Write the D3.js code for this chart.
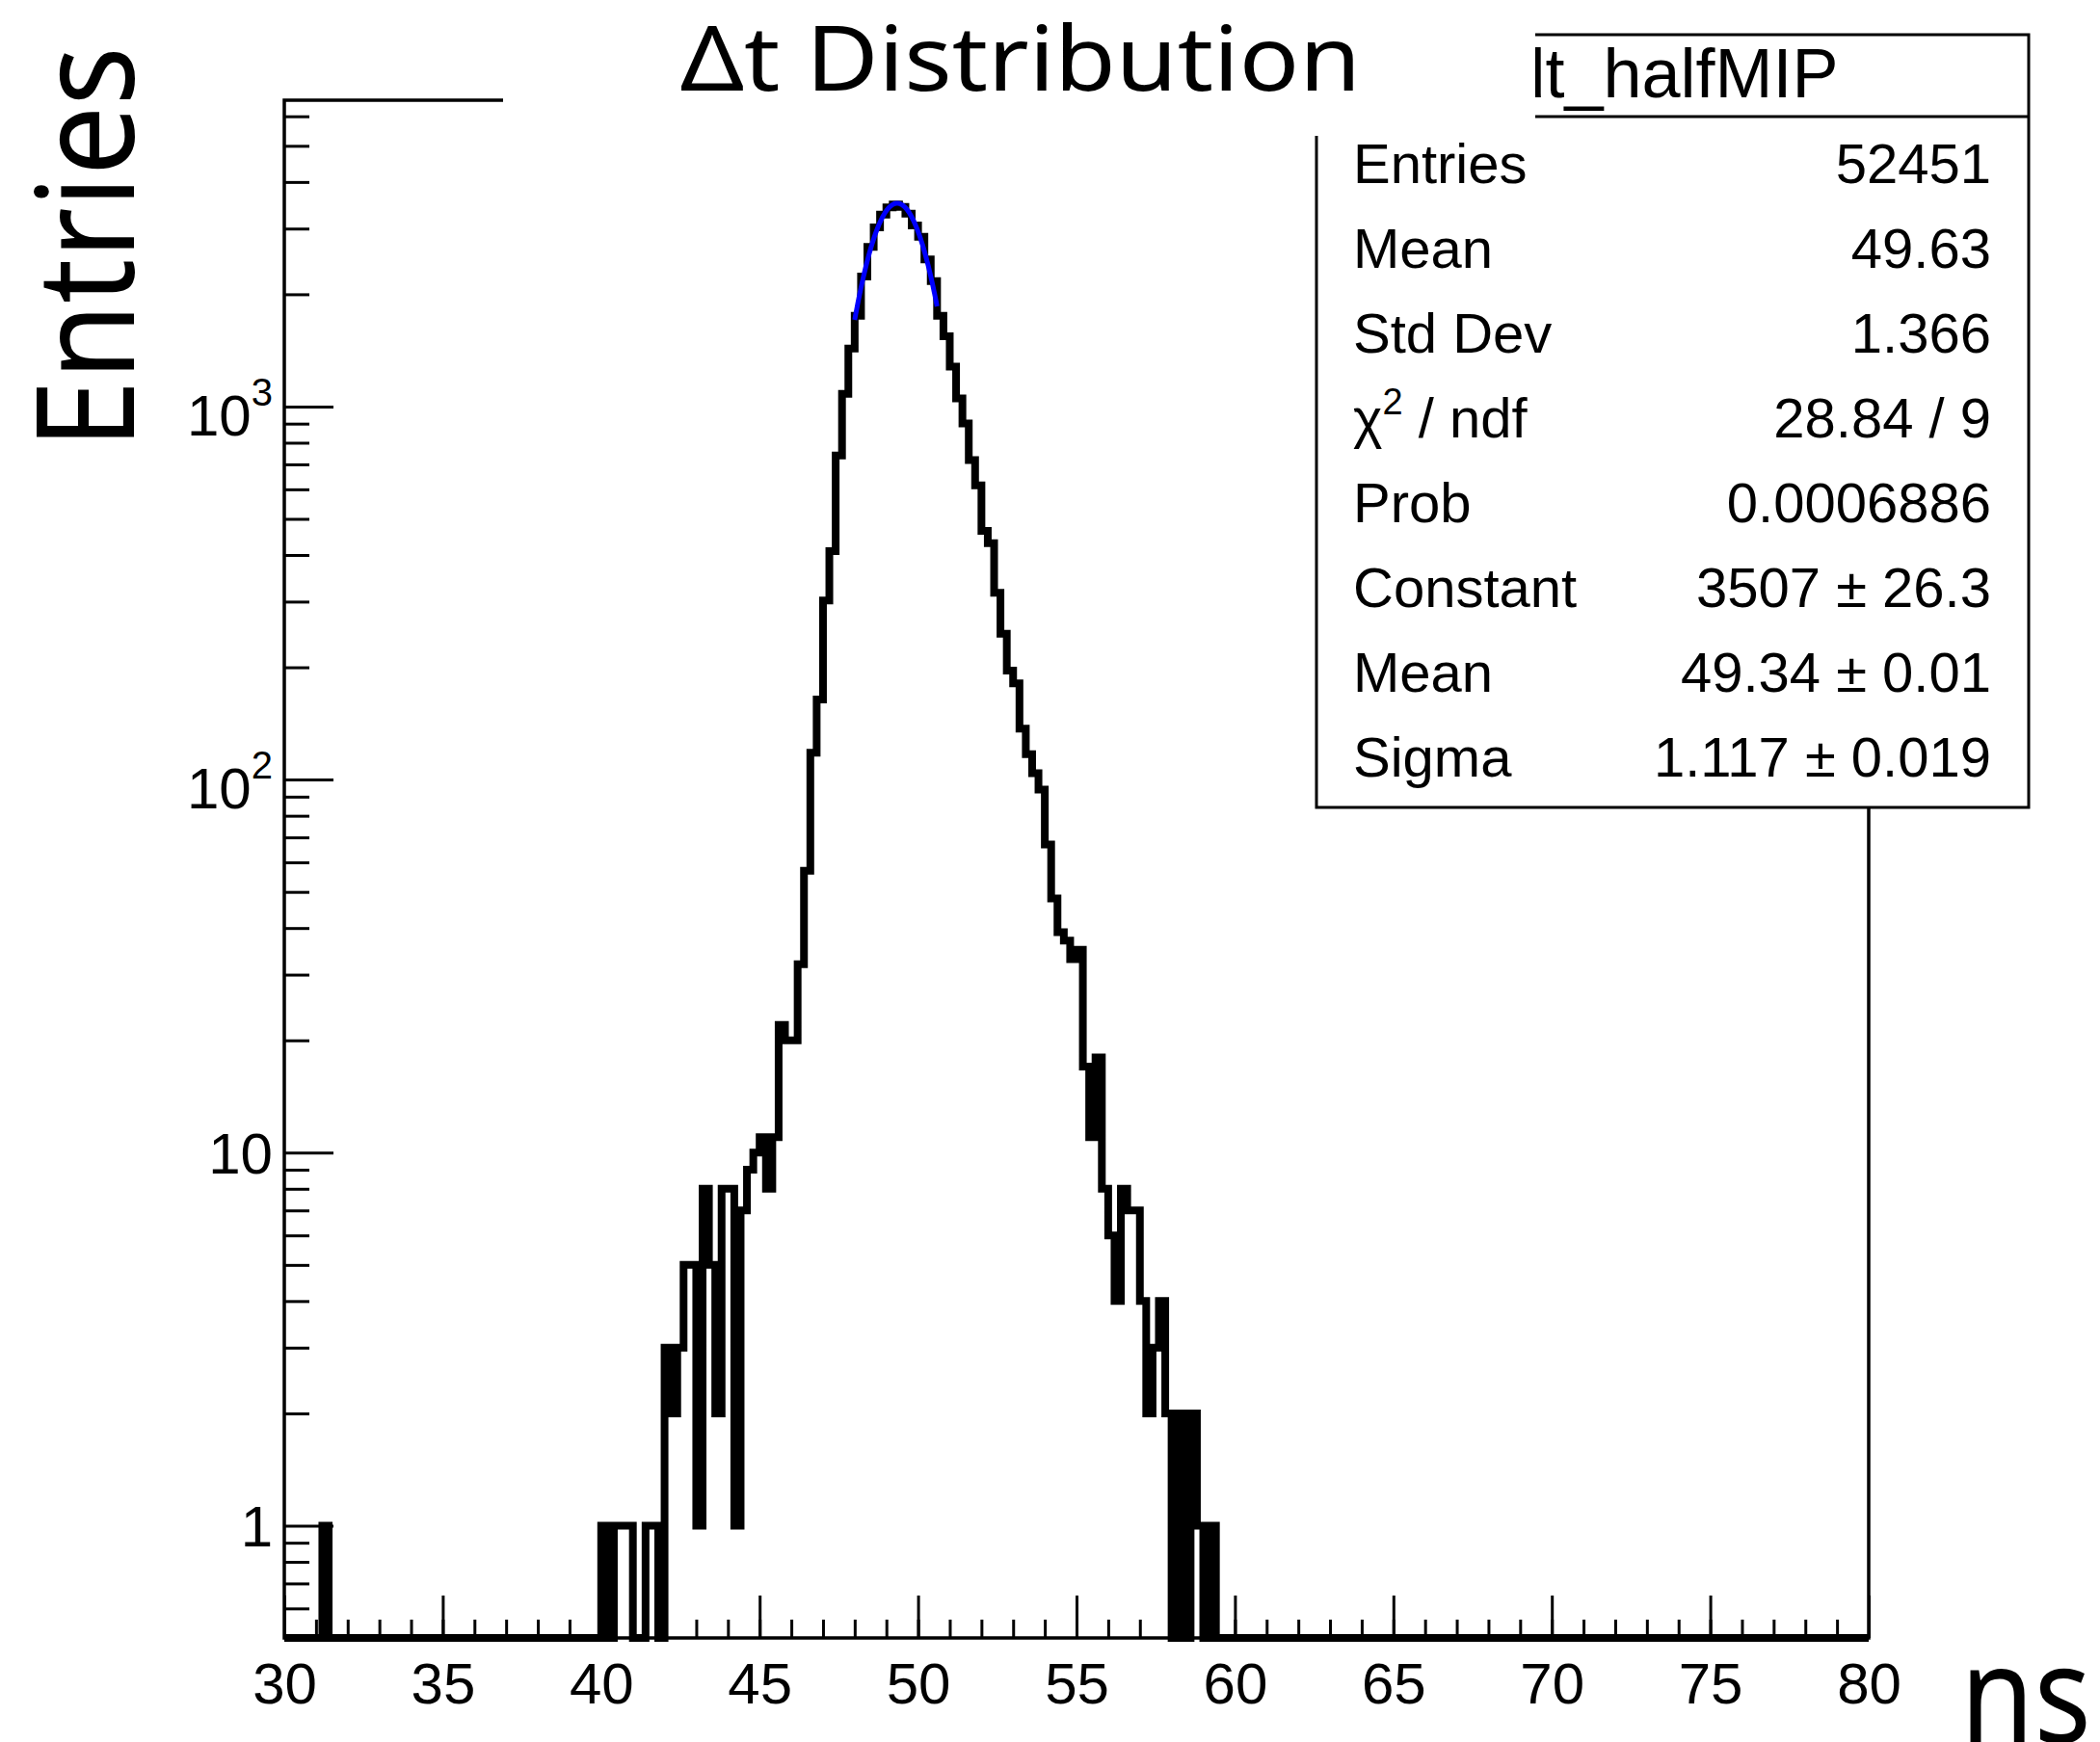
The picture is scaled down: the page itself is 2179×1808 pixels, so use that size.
<!DOCTYPE html>
<html>
<head>
<meta charset="utf-8">
<script src="https://cdn.jsdelivr.net/npm/d3@7"></script>
<style>
  html, body { margin: 0; padding: 0; background: #fff; }
  svg { display: block; }
</style>
</head>
<body>
<div id="chart"></div>
<script>
// dt_halfMIP: 250 bins of 0.2 ns between 30 and 80 ns
var binLow = 30, binWidth = 0.2;
var counts = [
  0, 0, 0, 0, 0, 0, 1, 0, 0, 0,            // 30-32
  0, 0, 0, 0, 0, 0, 0, 0, 0, 0,            // 32-34
  0, 0, 0, 0, 0, 0, 0, 0, 0, 0,            // 34-36
  0, 0, 0, 0, 0, 0, 0, 0, 0, 0,            // 36-38
  0, 0, 0, 0, 0, 0, 0, 0, 0, 0,            // 38-40
  1, 0, 1, 1, 1, 0, 0, 1, 1, 0,            // 40-42
  3, 2, 3, 5, 5, 1, 8, 5, 2, 8,            // 42-44
  8, 1, 7, 9, 10, 11, 8, 11, 22, 20,       // 44-46
  20, 32, 57, 118, 164, 302, 410, 739, 1082, 1430,       // 46-48
  1750, 2230, 2680, 3020, 3270, 3420, 3480, 3430, 3290, 3060, // 48-50
  2850, 2480, 2170, 1750, 1544, 1280, 1051, 901, 719, 615,    // 50-52
  464, 430, 317, 246, 196, 181, 137, 117, 104, 94,       // 52-54
  67, 48, 39, 37, 33, 35, 17, 11, 18, 8,   // 54-56
  6, 4, 8, 7, 7, 4, 2, 3, 4, 2,            // 56-58
  0, 2, 0, 2, 1, 0, 1, 0, 0, 0,            // 58-60
  0, 0, 0, 0, 0, 0, 0, 0, 0, 0,
  0, 0, 0, 0, 0, 0, 0, 0, 0, 0,
  0, 0, 0, 0, 0, 0, 0, 0, 0, 0,
  0, 0, 0, 0, 0, 0, 0, 0, 0, 0,
  0, 0, 0, 0, 0, 0, 0, 0, 0, 0,
  0, 0, 0, 0, 0, 0, 0, 0, 0, 0,
  0, 0, 0, 0, 0, 0, 0, 0, 0, 0,
  0, 0, 0, 0, 0, 0, 0, 0, 0, 0,
  0, 0, 0, 0, 0, 0, 0, 0, 0, 0,
  0, 0, 0, 0, 0, 0, 0, 0, 0, 0             // 78-80
];

// gaus fit: constant, mean, sigma and the range it was drawn over
var fitPars = [3507, 49.34, 1.117];
var fitRange = [48.0, 50.6];

var xTicks = [30, 35, 40, 45, 50, 55, 60, 65, 70, 75, 80];
var yTicks = [1, 10, 100, 1000];
var yTickText = ["1", "10", "10", "10"];
var yTickSup = ["", "", "2", "3"];

var statNames = ["Entries", "Mean", "Std Dev", "χ", "Prob", "Constant", "Mean", "Sigma"];
var statValues = ["52451", "49.63", "1.366", "28.84 / 9", "0.0006886",
                  "3507 \u00b1 26.3", "49.34 \u00b1 0.01", "1.117 \u00b1 0.019"];

var W = 2179, H = 1808;
var rootFont = "'Liberation Sans', Arial, Helvetica, sans-serif";
var slideFont = "'Noto Sans', 'Open Sans', sans-serif";

var svg = d3.select("#chart").append("svg")
    .attr("width", W)
    .attr("height", H)
    .style("background", "#fff");

var x = d3.scaleLinear().domain([30, 80]).range([295, 1939]);
var y = d3.scaleLog().domain([0.5, 6626]).range([1700, 104]);
var yMin = y.domain()[0];

// frame
svg.append("rect")
    .attr("x", x(30)).attr("y", y.range()[1])
    .attr("width", x(80) - x(30)).attr("height", y.range()[0] - y.range()[1])
    .attr("fill", "none").attr("stroke", "#000").attr("stroke-width", 3.5);

// x axis ticks (pointing inside)
var xMinor = svg.append("g")
    .attr("transform", "translate(0," + y(yMin) + ")")
    .call(d3.axisBottom(x).tickValues(d3.range(30, 81, 1))
        .tickSizeInner(-19).tickSizeOuter(0).tickFormat(""));
var xMajor = svg.append("g")
    .attr("transform", "translate(0," + y(yMin) + ")")
    .call(d3.axisBottom(x).tickValues(xTicks)
        .tickSizeInner(-44).tickSizeOuter(0).tickPadding(25).tickFormat(d3.format("d")));

// y axis ticks
var yMinorVals = [0.6, 0.7, 0.8, 0.9];
[1, 10, 100, 1000].forEach(function(d) {
    for (var m = 2; m <= 9; m++) if (d * m < y.domain()[1]) yMinorVals.push(d * m);
});
var yMinor = svg.append("g")
    .attr("transform", "translate(" + x(30) + ",0)")
    .call(d3.axisLeft(y).tickValues(yMinorVals)
        .tickSizeInner(-26).tickSizeOuter(0).tickFormat(""));
var yMajor = svg.append("g")
    .attr("transform", "translate(" + x(30) + ",0)")
    .call(d3.axisLeft(y).tickValues(yTicks)
        .tickSizeInner(-51).tickSizeOuter(0).tickFormat(""));

[xMinor, xMajor, yMinor, yMajor].forEach(function(g) {
    g.select(".domain").remove();
    g.selectAll(".tick line").attr("stroke", "#000").attr("stroke-width", 3);
});
xMajor.selectAll(".tick text")
    .attr("font-family", rootFont)
    .attr("font-size", 60)
    .attr("fill", "#000");

// y labels, 10^n with superscript
var yLab = svg.selectAll(".ylab")
    .data(yTicks)
    .enter()
    .append("text")
    .attr("class", "ylab")
    .attr("x", 283)
    .attr("y", function(d, i) { return y(d) + (yTickSup[i] ? 30 : 21.5); })
    .attr("text-anchor", "end")
    .attr("font-family", rootFont)
    .attr("font-size", 60)
    .attr("fill", "#000")
    .text(function(d, i) { return yTickText[i]; });
yLab.filter(function(d, i) { return yTickSup[i] !== ""; })
    .append("tspan")
    .attr("font-size", 40)
    .attr("dy", -31)
    .text(function(d) { return yTickSup[yTicks.indexOf(d)]; });

// histogram outline
var histPts = [[binLow, yMin]];
counts.forEach(function(c, i) {
    var lo = binLow + i * binWidth, v = c > 0 ? c : yMin;
    histPts.push([lo, v], [lo + binWidth, v]);
});
histPts.push([binLow + counts.length * binWidth, yMin]);

var line = d3.line()
    .x(function(d) { return x(d[0]); })
    .y(function(d) { return y(d[1]); });

svg.append("path")
    .datum(histPts)
    .attr("d", line)
    .attr("fill", "none")
    .attr("stroke", "#000")
    .attr("stroke-width", 8)
    .attr("stroke-linejoin", "miter");

// gaussian fit
var fitPts = d3.range(fitRange[0], fitRange[1] + 1e-9, 0.02).map(function(t) {
    var z = (t - fitPars[1]) / fitPars[2];
    return [t, fitPars[0] * Math.exp(-0.5 * z * z)];
});
svg.append("path")
    .datum(fitPts)
    .attr("d", line)
    .attr("fill", "none")
    .attr("stroke", "#0000ff")
    .attr("stroke-width", 5);

// stats box
var sx0 = 1366, sx1 = 2105, sTop = 36, sMid = 121, sBot = 838;
svg.append("rect")
    .attr("x", sx0).attr("y", sTop).attr("width", sx1 - sx0).attr("height", sBot - sTop)
    .attr("fill", "#fff").attr("stroke", "#000").attr("stroke-width", 3);
svg.append("line")
    .attr("x1", sx0).attr("x2", sx1).attr("y1", sMid).attr("y2", sMid)
    .attr("stroke", "#000").attr("stroke-width", 3);
svg.append("text")
    .attr("x", (sx0 + sx1) / 2).attr("y", 101)
    .attr("text-anchor", "middle")
    .attr("font-family", rootFont).attr("font-size", 72)
    .text("dt_halfMIP");

var rows = svg.selectAll(".stat")
    .data(statNames)
    .enter()
    .append("g")
    .attr("class", "stat")
    .attr("font-family", rootFont)
    .attr("font-size", 58)
    .attr("fill", "#000");
var names = rows.append("text")
    .attr("x", 1404)
    .attr("y", function(d, i) { return 190 + 88 * i; })
    .text(function(d) { return d; });
names.filter(function(d, i) { return i === 3; })
    .append("tspan").attr("font-size", 38).attr("dy", -24).text("2");
names.filter(function(d, i) { return i === 3; })
    .append("tspan").attr("dy", 24).text(" / ndf");
rows.append("text")
    .attr("x", 2066)
    .attr("y", function(d, i) { return 190 + 88 * i; })
    .attr("text-anchor", "end")
    .text(function(d, i) { return statValues[i]; });

// white title box laid over frame and stats box
svg.append("rect")
    .attr("x", 522).attr("y", 0).attr("width", 1593 - 522).attr("height", 141)
    .attr("fill", "#fff");
svg.append("text")
    .attr("x", 706).attr("y", 94)
    .attr("font-family", slideFont).attr("font-size", 94)
    .attr("textLength", 706).attr("lengthAdjust", "spacingAndGlyphs")
    .text("\u0394t Distribution");

// axis titles
svg.append("text")
    .attr("transform", "translate(139,257) rotate(-90)")
    .attr("text-anchor", "middle")
    .attr("font-family", slideFont).attr("font-size", 140)
    .attr("textLength", 418).attr("lengthAdjust", "spacingAndGlyphs")
    .text("Entries");
svg.append("text")
    .attr("x", 2034).attr("y", 1809)
    .attr("font-family", slideFont).attr("font-size", 140)
    .attr("textLength", 136).attr("lengthAdjust", "spacingAndGlyphs")
    .text("ns");
</script>
</body>
</html>
